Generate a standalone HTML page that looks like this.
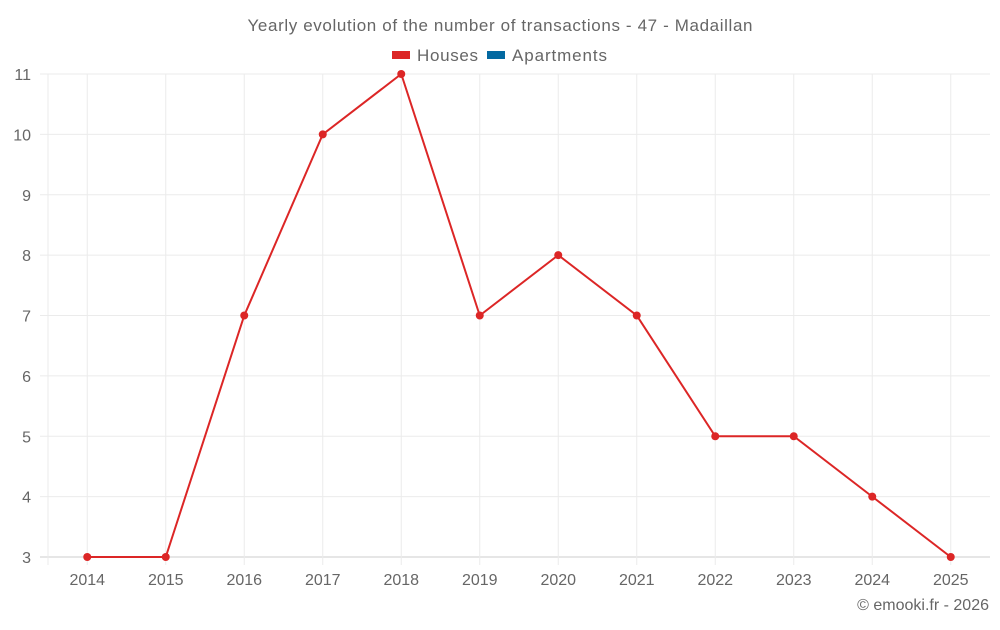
<!DOCTYPE html>
<html><head><meta charset="utf-8"><style>
body{margin:0;background:#fff;font-family:"Liberation Sans",sans-serif;}
svg text{font-family:"Liberation Sans",sans-serif;fill:#666;}
</style></head><body>
<svg width="1000" height="625">
<text x="500" y="31" text-anchor="middle" font-size="17" textLength="505" lengthAdjust="spacing">Yearly evolution of the number of transactions - 47 - Madaillan</text>
<g>
<g><rect x="392" y="51" width="18" height="8" fill="#dc2626"/><text x="417" y="61" font-size="17" textLength="61">Houses</text></g>
<g><rect x="487" y="51" width="18" height="8" fill="#0369a1"/><text x="512" y="61" font-size="17" textLength="95">Apartments</text></g>
</g>
<g id="grid"></g>
<g id="axes"></g>
<g id="series"></g>
<text x="989" y="610" text-anchor="end" font-size="16">© emooki.fr - 2026</text>
</svg>
<script>
const categories=["2014","2015","2016","2017","2018","2019","2020","2021","2022","2023","2024","2025"];
const houses=[3,3,7,10,11,7,8,7,5,5,4,3];
const yTicks=[3,4,5,6,7,8,9,10,11];
const L=48,R=990,T=74,B=557,yMin=3,yMax=11;
const bw=(R-L)/categories.length;
const xs=i=>L+bw*(i+0.5);
const ys=v=>B-(v-yMin)/(yMax-yMin)*(B-T);
const NS="http://www.w3.org/2000/svg";
function mk(t,a,p){const e=document.createElementNS(NS,t);for(const k in a)e.setAttribute(k,a[k]);p.appendChild(e);return e;}
const g=document.getElementById('grid'),ax=document.getElementById('axes'),s=document.getElementById('series');
yTicks.forEach(v=>{
 const l=mk('line',{x1:40,x2:R,y1:ys(v),y2:ys(v),stroke:v===yMin?'#ccc':'#ebebeb'},g);
 
 
 const t=mk('text',{x:31,y:ys(v)+6,'text-anchor':'end','font-size':16},ax);t.textContent=v;
 
 
});
mk('line',{x1:L,x2:L,y1:T,y2:B+8,stroke:'#ebebeb'},g);
categories.forEach((c,i)=>{
 const l=mk('line',{x1:xs(i),x2:xs(i),y1:T,y2:B+8,stroke:'#ebebeb'},g);
 
 
 const t=mk('text',{x:xs(i),y:585,'text-anchor':'middle','font-size':16},ax);t.textContent=c;
 
 
});
const p=mk('polyline',{points:houses.map((v,i)=>xs(i)+','+ys(v)).join(' '),fill:'none',stroke:'#dc2626','stroke-width':2},s);


houses.forEach((v,i)=>{
 const c=mk('circle',{cx:xs(i),cy:ys(v),r:4,fill:'#dc2626'},s);
 
 
});
</script>
</body></html>
